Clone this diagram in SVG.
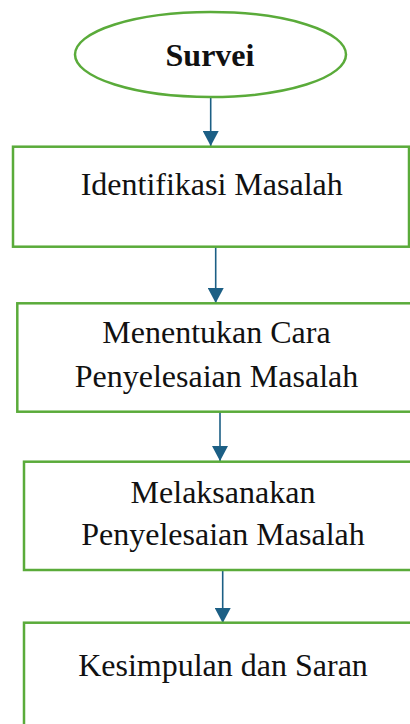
<svg xmlns="http://www.w3.org/2000/svg" width="410" height="724" viewBox="0 0 410 724">
<defs>
<style>
.node{fill:#ffffff;stroke:#5aab3a;stroke-width:2.5}
.t{font-family:"Liberation Serif","Times New Roman",serif;font-size:32px;fill:#111111;text-anchor:middle}
.b{font-weight:bold}
.c{stroke:#1c5f85;stroke-width:1.6;fill:none}
</style>
<marker id="ah" markerUnits="userSpaceOnUse" markerWidth="16" markerHeight="16" refX="15" refY="8" orient="auto">
<path d="M0,0 L15,8 L0,16 Z" fill="#1c5f85"/>
</marker>
</defs>
<rect width="410" height="724" fill="#ffffff"/>
<g id="connectors">
<line class="c" x1="210.7" y1="97" x2="210.7" y2="146" marker-end="url(#ah)"/>
<line class="c" x1="215.7" y1="247" x2="215.7" y2="303" marker-end="url(#ah)"/>
<line class="c" x1="220" y1="412" x2="220" y2="461" marker-end="url(#ah)"/>
<line class="c" x1="222.7" y1="570" x2="222.7" y2="623" marker-end="url(#ah)"/>
</g>
<g id="survei">
<ellipse class="node" cx="210.5" cy="54.5" rx="135.5" ry="42.5"/>
<text class="t b" x="210" y="66">Survei</text>
</g>
<g id="identifikasi">
<rect class="node" x="13" y="146.7" width="396" height="100"/>
<text class="t" x="211.7" y="195">Identifikasi Masalah</text>
</g>
<g id="menentukan">
<rect class="node" x="17.3" y="303.3" width="400" height="108.4"/>
<text class="t" x="216.5" y="343">Menentukan Cara</text>
<text class="t" x="216.5" y="387">Penyelesaian Masalah</text>
</g>
<g id="melaksanakan">
<rect class="node" x="24" y="461.7" width="400" height="108.3"/>
<text class="t" x="223" y="503">Melaksanakan</text>
<text class="t" x="223" y="545">Penyelesaian Masalah</text>
</g>
<g id="kesimpulan">
<rect class="node" x="24" y="622.7" width="400" height="120"/>
<text class="t" x="223" y="676">Kesimpulan dan Saran</text>
</g>
</svg>
